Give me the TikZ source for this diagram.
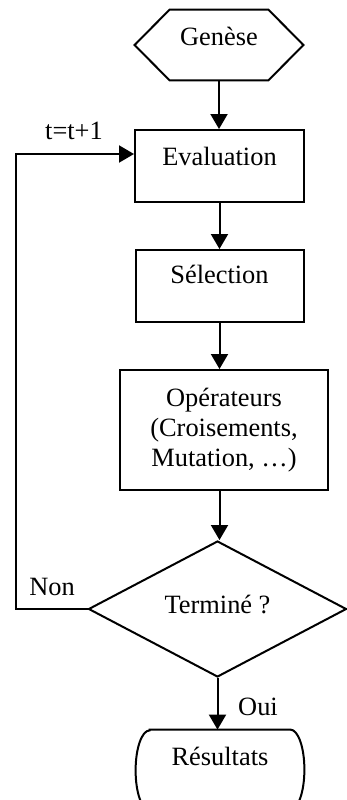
\documentclass[tikz,border=0pt]{standalone}
\usepackage{fontspec}
\setmainfont{Liberation Serif}
\usetikzlibrary{arrows.meta,shapes.geometric}
\begin{document}
\begin{tikzpicture}[x=0.5pt,y=-0.5pt,
  every node/.style={font=\fontsize{13.2pt}{15pt}\selectfont, inner sep=0pt},
  box/.style={draw, line width=1pt, rectangle},
  outline/.style={line width=1pt},
  flow/.style={line width=1pt, -{Triangle[length=7.5pt,width=8.5pt]}}
]
\useasboundingbox (0,0) rectangle (347,800);
\clip (0,0) rectangle (347,800);

% start: hexagon
\node[minimum width=84pt, text height=17.5pt, text depth=17.5pt] (gen) at (219,45) {Genèse};
\draw[outline] (gen.west) -- ([xshift=17.5pt]gen.north west) -- ([xshift=-17.5pt]gen.north east)
  -- (gen.east) -- ([xshift=-17.5pt]gen.south east) -- ([xshift=17.5pt]gen.south west) -- cycle;

% process steps
\node[box, minimum width=84.5pt, text height=17.5pt, text depth=18.5pt] (eva) at (219.5,166) {Evaluation};
\node[box, minimum width=84pt, text height=16.5pt, text depth=19.5pt] (sel) at (219.5,286) {Sélection};
\node[box, minimum width=104pt, minimum height=60pt, align=center] (ops) at (224,430)
  {Opérateurs\\(Croisements,\\Mutation, …)};

% test
\node[diamond, draw, line width=1pt, minimum width=129pt, minimum height=68pt,
      text height=9pt, text depth=5pt] (dec) at (217.5,609) {Terminé ?};

% end: rounded terminator
\node[minimum width=84pt, text height=17.5pt, text depth=22.5pt] (res) at (220,770) {Résultats};
\draw[outline] ([xshift=7pt]res.north west) -- ([xshift=-7pt]res.north east)
  arc[start angle=90, end angle=-90, x radius=7pt, y radius=20pt]
  -- ([xshift=7pt]res.south west)
  arc[start angle=270, end angle=90, x radius=7pt, y radius=20pt] -- cycle;

% connectors
\draw[flow] (gen.south) -- (gen.south |- eva.north);
\draw[flow] (eva.south) -- (sel.north);
\draw[flow] (sel.south) -- (sel.south |- ops.north);
\draw[flow] (sel.south |- ops.south) -- (sel.south |- dec.north);
\draw[flow] (dec.south) -- (dec.south |- res.north);

% loop back
\coordinate (back) at (16,154);
\draw[flow] (dec.west) -| (back) -- (back -| eva.west);

% labels
\node[anchor=base] (tlab) at (74,139) {t=t+1};
\node[anchor=base] (nonlab) at (52,595) {Non};
\node[anchor=base] (ouilab) at (258,715) {Oui};
\end{tikzpicture}
\end{document}
